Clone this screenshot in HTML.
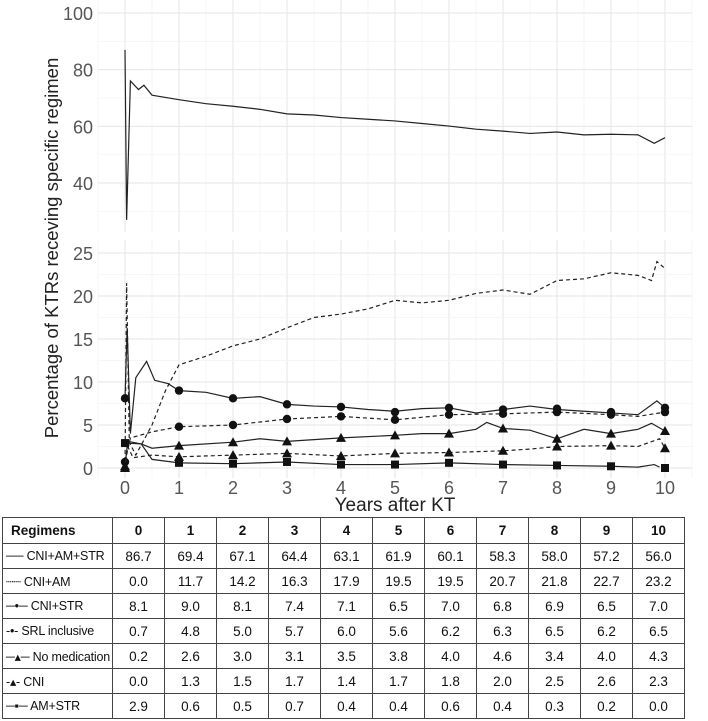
<!DOCTYPE html>
<html><head><meta charset="utf-8"><style>
body{margin:0;background:#fff;width:708px;height:721px;overflow:hidden;font-family:"Liberation Sans",Arial,sans-serif}
svg{position:absolute;left:0;top:0}
table{position:absolute;left:2px;top:517px;width:680px;table-layout:fixed;border-collapse:collapse;font-size:13.5px;color:#111}
td{border:1px solid #444;text-align:center;height:24px;padding:0;overflow:hidden}
th{border:1px solid #444;height:25px;font-weight:bold;padding:0;font-size:13.5px}
td.l{text-align:left;padding-left:3px;white-space:nowrap;font-size:12.5px;letter-spacing:-0.2px}
</style></head><body>
<svg id="c" width="708" height="517"></svg>
<table>
<colgroup><col style="width:110px"><col span="11" style="width:52px"></colgroup>
<tr><th style="text-align:left;padding-left:8px">Regimens</th><th>0</th><th>1</th><th>2</th><th>3</th><th>4</th><th>5</th><th>6</th><th>7</th><th>8</th><th>9</th><th>10</th></tr>
<tr><td class="l">── CNI+AM+STR</td><td>86.7</td><td>69.4</td><td>67.1</td><td>64.4</td><td>63.1</td><td>61.9</td><td>60.1</td><td>58.3</td><td>58.0</td><td>57.2</td><td>56.0</td></tr>
<tr><td class="l">┈┈ CNI+AM</td><td>0.0</td><td>11.7</td><td>14.2</td><td>16.3</td><td>17.9</td><td>19.5</td><td>19.5</td><td>20.7</td><td>21.8</td><td>22.7</td><td>23.2</td></tr>
<tr><td class="l">─•─ CNI+STR</td><td>8.1</td><td>9.0</td><td>8.1</td><td>7.4</td><td>7.1</td><td>6.5</td><td>7.0</td><td>6.8</td><td>6.9</td><td>6.5</td><td>7.0</td></tr>
<tr><td class="l">-•- SRL inclusive</td><td>0.7</td><td>4.8</td><td>5.0</td><td>5.7</td><td>6.0</td><td>5.6</td><td>6.2</td><td>6.3</td><td>6.5</td><td>6.2</td><td>6.5</td></tr>
<tr><td class="l">─▴─ No medication</td><td>0.2</td><td>2.6</td><td>3.0</td><td>3.1</td><td>3.5</td><td>3.8</td><td>4.0</td><td>4.6</td><td>3.4</td><td>4.0</td><td>4.3</td></tr>
<tr><td class="l">-▴- CNI</td><td>0.0</td><td>1.3</td><td>1.5</td><td>1.7</td><td>1.4</td><td>1.7</td><td>1.8</td><td>2.0</td><td>2.5</td><td>2.6</td><td>2.3</td></tr>
<tr><td class="l">─▪─ AM+STR</td><td>2.9</td><td>0.6</td><td>0.5</td><td>0.7</td><td>0.4</td><td>0.4</td><td>0.6</td><td>0.4</td><td>0.3</td><td>0.2</td><td>0.0</td></tr>
</table>
<script>
const years=[0,1,2,3,4,5,6,7,8,9,10];
const topT=[0,0.03,0.1,0.25,0.35,0.5,1,1.5,2,2.5,3,3.5,4,4.5,5,5.5,6,6.5,7,7.5,8,8.5,9,9.5,9.8,10];
const topV=[87,27,76,73,74.5,71,69.4,68,67.1,66,64.4,64,63.1,62.5,61.9,61,60.1,59,58.3,57.5,58,57,57.2,57,54,56];
const amT=[0,0.03,0.08,0.2,0.5,0.75,1,1.5,2,2.5,3,3.5,4,4.5,5,5.5,6,6.5,7,7.5,8,8.5,9,9.5,9.75,9.85,10];
const amV=[0,21.5,3,1.5,5,9,12,13,14.2,15,16.3,17.5,17.9,18.5,19.5,19.2,19.5,20.3,20.7,20.2,21.8,22,22.7,22.4,21.8,24,23.2];
const csT=[0,0.04,0.1,0.2,0.4,0.55,0.8,1,1.5,2,2.5,3,3.5,4,4.5,5,5.5,6,6.5,7,7.5,8,8.5,9,9.5,9.85,10];
const csV=[8.1,16.3,4,10.5,12.4,10.2,9.8,9.0,8.8,8.1,8.3,7.4,7.2,7.1,6.8,6.6,6.9,7.0,6.4,6.8,7.2,6.8,6.6,6.4,6.2,7.8,7.0];
const csM=[8.1,9.0,8.1,7.4,7.1,6.5,7.0,6.8,6.9,6.5,7.0];
const srT=[0,0.1,0.5,1,2,3,4,5,6,7,8,9,9.5,10];
const srV=[0.7,3.5,4.2,4.8,5.0,5.7,6.0,5.6,6.2,6.3,6.5,6.2,6.0,6.5];
const srM=[0.7,4.8,5.0,5.7,6.0,5.6,6.2,6.3,6.5,6.2,6.5];
const nmT=[0,0.05,0.3,0.5,1,2,2.5,3,4,5,5.5,6,6.5,6.7,7,7.5,8,8.5,9,9.5,9.75,10];
const nmV=[0.2,3.1,2.8,2.3,2.6,3.0,3.4,3.1,3.5,3.8,4.0,4.0,4.5,5.3,4.6,4.4,3.4,4.5,4.0,4.5,5.2,4.3];
const nmM=[0.2,2.6,3.0,3.1,3.5,3.8,4.0,4.6,3.4,4.0,4.3];
const cnT=[0,0.05,0.15,0.5,1,2,3,4,5,6,7,7.5,8,9,9.5,9.9,10];
const cnV=[0,2.5,1.2,1.5,1.3,1.5,1.7,1.4,1.7,1.8,2.0,2.2,2.5,2.6,2.5,3.4,2.3];
const cnM=[0.0,1.3,1.5,1.7,1.4,1.7,1.8,2.0,2.5,2.6,2.3];
const asT=[0,0.3,0.5,1,2,3,4,5,6,7,8,9,9.5,9.8,9.9];
const asV=[2.9,2.8,1.0,0.6,0.5,0.7,0.4,0.4,0.6,0.4,0.3,0.2,0.1,0.4,0.1];
const asM=[2.9,0.6,0.5,0.7,0.4,0.4,0.6,0.4,0.3,0.2,0.0];
const topTicks=[40,60,80,100], botTicks=[0,5,10,15,20,25];

const svg=document.getElementById('c'),NS='http://www.w3.org/2000/svg';
const X=t=>125+54*t, YT=v=>183-(v-40)*2.833, YB=v=>468-v*8.6;
function el(tag,a,name){const e=document.createElementNS(NS,tag);for(const k in a)e.setAttribute(k,a[k]);


svg.appendChild(e);return e;}
function grid(y0,y1,ys,minorYs){
 for(let t=-0.5;t<=10.5;t+=0.5){el('line',{x1:X(t),x2:X(t),y1:y0,y2:y1,stroke:t%1?'#f3f3f6':'#e6e6ea','stroke-width':t%1?0.7:1},'grid-x');}
 minorYs.forEach(y=>el('line',{x1:X(-0.5),x2:X(10.5),y1:y,y2:y,stroke:'#f3f3f6','stroke-width':0.7},'grid-y-minor'));
 ys.forEach(y=>el('line',{x1:X(-0.5),x2:X(10.5),y1:y,y2:y,stroke:'#e6e6ea','stroke-width':1},'grid-y'));
}
grid(0,232,topTicks.map(YT),[30,50,70,90].map(YT));
grid(240,478,botTicks.map(YB),[2.5,7.5,12.5,17.5,22.5].map(YB));
topTicks.forEach(v=>{const t=el('text',{x:93,y:YT(v)+7,'text-anchor':'end','font-size':18,fill:'#555'},'y-tick-top');t.textContent=v;});
botTicks.forEach(v=>{const t=el('text',{x:93,y:YB(v)+7,'text-anchor':'end','font-size':18,fill:'#555'},'y-tick-bottom');t.textContent=v;});
years.forEach(v=>{const t=el('text',{x:X(v),y:494,'text-anchor':'middle','font-size':18,fill:'#555'},'x-tick');t.textContent=v;});
let xt=el('text',{x:395,y:511,'text-anchor':'middle','font-size':19,fill:'#222'},'x-axis-title');xt.textContent='Years after KT';
let yt=el('text',{x:0,y:0,'text-anchor':'middle','font-size':18.5,fill:'#222',transform:'translate(58,248) rotate(-90)'},'y-axis-title');yt.textContent='Percentage of KTRs receving specific regimen';
function line(T,V,Y,dash,name){el('polyline',{points:T.map((t,i)=>X(t)+','+Y(V[i])).join(' '),fill:'none',stroke:'#222','stroke-width':1.2,'stroke-dasharray':dash||''},name);}
function marks(M,shape,name){M.forEach((v,i)=>{const x=X(years[i]),y=YB(v);
 if(shape==='c')el('circle',{cx:x,cy:y,r:4.2,fill:'#111'},name);
 else if(shape==='t')el('polygon',{points:`${x},${y-5} ${x-5},${y+4} ${x+5},${y+4}`,fill:'#111'},name);
 else el('rect',{x:x-4,y:y-4,width:8,height:8,fill:'#111'},name);});}
line(topT,topV,YT,'','line-cni-am-str');
line(amT,amV,YB,'4,3','line-cni-am');
line(csT,csV,YB,'','line-cni-str');marks(csM,'c','marker-cni-str');
line(srT,srV,YB,'4,3','line-srl-inclusive');marks(srM,'c','marker-srl-inclusive');
line(nmT,nmV,YB,'','line-no-medication');marks(nmM,'t','marker-no-medication');
line(cnT,cnV,YB,'4,3','line-cni');marks(cnM,'t','marker-cni');
line(asT,asV,YB,'','line-am-str');marks(asM,'s','marker-am-str');
</script>
</body></html>
